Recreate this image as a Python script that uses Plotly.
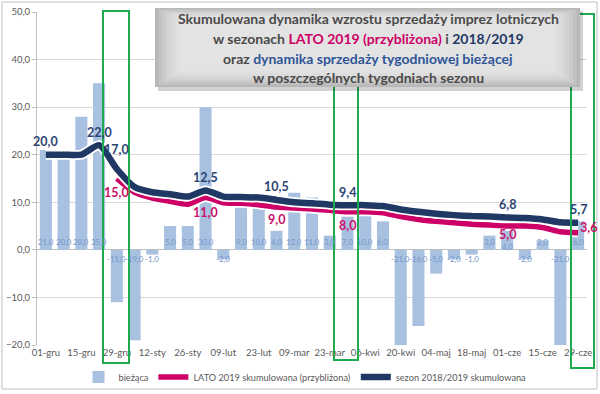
import plotly.graph_objects as go

# ---------------- data ----------------
weeks = ["01-gru", "08-gru", "15-gru", "22-gru", "29-gru", "05-sty", "12-sty", "19-sty",
         "26-sty", "02-lut", "09-lut", "16-lut", "23-lut", "02-mar", "09-mar", "16-mar",
         "23-mar", "30-mar", "06-kwi", "13-kwi", "20-kwi", "27-kwi", "04-maj", "11-maj",
         "18-maj", "25-maj", "01-cze", "08-cze", "15-cze", "22-cze", "29-cze"]
tick_weeks = weeks[::2]

biezaca = [21, 20, 28, 35, -11, -19, -1, 5, 5, 30, -2, 9, 10, 4, 12, 11, 3, 7, 10, 6,
           -21, -16, -5, -2, -1, 3, 4, -2, 2, -21, 6]

sezon_2018_2019 = [20, 20, 20, 22, 17, 13.2, 12.1, 11.7, 11.2, 12.5, 11.2, 11.1, 11.0, 10.5,
                   10.0, 9.8, 9.5, 9.4, 9.4, 9.2, 8.5, 8.0, 7.6, 7.3, 7.1, 7.0, 6.8, 6.7,
                   6.4, 5.8, 5.7]

lato_2019 = [None, None, None, None, 15, 12.1, 10.9, 10.2, 9.6, 11, 9.9, 9.8, 9.5, 9.0,
             8.8, 8.6, 8.3, 8.0, 8.0, 7.8, 7.0, 6.4, 6.0, 5.7, 5.4, 5.2, 5.0, 5.0, 4.7,
             3.8, 3.6]

sezon_label_idx = [0, 3, 4, 9, 13, 17, 26, 30]
lato_label_idx = [4, 9, 13, 17, 26, 30]


def fmt(v):
    return f"{v:.1f}".replace(".", ",")


FONT = "Lato"
NAVY = "#1F3864"
PINK = "#CC0066"
BAR = "#A9C1E1"

fig = go.Figure()

fig.add_trace(go.Bar(x=weeks, y=biezaca, name="bieżąca", marker_color=BAR,
                     marker_line_width=0, hoverinfo="x+y"))

# LATO 2019 line with white halo
fig.add_trace(go.Scatter(x=weeks, y=lato_2019, mode="lines",
                         line=dict(color="white", width=9, shape="spline", smoothing=0.6),
                         showlegend=False, hoverinfo="skip"))
fig.add_trace(go.Scatter(
    x=weeks, y=lato_2019, mode="lines", name="LATO 2019 skumulowana (przybliżona)",
    line=dict(color=PINK, width=5.5, shape="spline", smoothing=0.6)))

# sezon 2018/2019 line with white halo
fig.add_trace(go.Scatter(x=weeks, y=sezon_2018_2019, mode="lines",
                         line=dict(color="white", width=10, shape="spline", smoothing=0.6),
                         showlegend=False, hoverinfo="skip"))
fig.add_trace(go.Scatter(
    x=weeks, y=sezon_2018_2019, mode="lines", name="sezon 2018/2019 skumulowana",
    line=dict(color=NAVY, width=6.5, shape="spline", smoothing=0.6)))

# ---------------- layout helpers (pixel -> paper) ----------------
L, R, T, B = 37, 13, 12, 49
W, H = 600, 394
PW, PH = W - L - R, H - T - B


def px(x):
    return (x - L) / PW


def py(y):
    return (H - B - y) / PH


shapes = []
# outer border
shapes.append(dict(type="rect", xref="paper", yref="paper", x0=px(2), x1=px(597),
                   y0=py(389), y1=py(2), line=dict(color="#BFBFBF", width=1),
                   layer="below"))
# green highlight boxes
for (a, b, top, bot) in [(103, 129, 11, 363), (334, 358, 11, 360), (571, 594, 14, 368)]:
    shapes.append(dict(type="rect", xref="paper", yref="paper", x0=px(a), x1=px(b),
                       y0=py(bot), y1=py(top), line=dict(color="#1EAA4E", width=2),
                       layer="above"))
# title box: shadow + bevel-like gradient
bx0, bx1, by0, by1 = 155, 580, 8, 87
shapes.append(dict(type="rect", xref="paper", yref="paper", x0=px(bx0 + 3), x1=px(bx1 + 3),
                   y0=py(by1 + 4), y1=py(by0 + 3), line=dict(width=0),
                   fillcolor="rgba(0,0,0,0.18)", layer="above"))
grays = ["#B8B8B8", "#C2C2C2", "#CACACA", "#D1D1D1", "#D7D7D7", "#DCDCDC", "#E0E0E0", "#E3E3E3"]
for k, g in enumerate(grays):
    inset = k * 2.2
    shapes.append(dict(type="rect", xref="paper", yref="paper",
                       x0=px(bx0 + inset * 1.6), x1=px(bx1 - inset * 1.6),
                       y0=py(by1 - inset), y1=py(by0 + inset * 0.6),
                       line=dict(width=0), fillcolor=g, layer="above"))

annotations = []

# bar value labels at the base of each bar
bar_shift = {26: 3}
for i, v in enumerate(biezaca):
    annotations.append(dict(x=weeks[i], y=0, xref="x", yref="y", text=fmt(v),
                            showarrow=False,
                            yshift=bar_shift.get(i, 8 if v >= 0 else -9),
                            font=dict(family=FONT, size=7.8, color="#7296CA")))

# data labels on the lines (placed in data coordinates, shifted in pixels)
navy_shift = {4: 19}
for i in sezon_label_idx:
    annotations.append(dict(x=weeks[i], y=sezon_2018_2019[i], xref="x", yref="y",
                            text=fmt(sezon_2018_2019[i]), showarrow=False,
                            yshift=navy_shift.get(i, 13),
                            font=dict(family=FONT, size=12.5, color="#2B4573", weight="bold")))
pink_shift = {4: -14, 9: -15, 13: -12, 17: -14, 26: -8}
for i in lato_label_idx:
    last = i == len(weeks) - 1
    annotations.append(dict(x=weeks[i], y=lato_2019[i], xref="x", yref="y",
                            text=fmt(lato_2019[i]), showarrow=False,
                            xshift=10 if last else 0,
                            yshift=5 if last else pink_shift.get(i, -13),
                            font=dict(family=FONT, size=12.5, color="#C8106A", weight="bold")))

title_lines = [
    "Skumulowana dynamika wzrostu sprzedaży imprez lotniczych",
    f"w sezonach <span style='color:{PINK}'>LATO 2019 (przybliżona)</span> i "
    f"<span style='color:{NAVY}'>2018/2019</span>",
    "oraz <span style='color:#2F5597'>dynamika sprzedaży tygodniowej bieżącej</span>",
    "w poszczególnych tygodniach sezonu",
]
for yy, txt in zip([18, 38, 58, 78], title_lines):
    annotations.append(dict(xref="paper", yref="paper", x=px(368), y=py(yy), text=txt,
                            showarrow=False, xanchor="center", yanchor="middle",
                            font=dict(family=FONT, size=14, color="#4A4A4A", weight="bold")))

fig.update_layout(
    width=W, height=H,
    margin=dict(l=L, r=R, t=T, b=B, autoexpand=False),
    paper_bgcolor="white", plot_bgcolor="white",
    separators=", ",
    bargap=0.32,
    showlegend=True,
    legend=dict(orientation="h", x=px(305), xanchor="center", y=py(377), yanchor="middle",
                font=dict(family=FONT, size=9.2, color="#595959"),
                itemwidth=30, tracegroupgap=0, bgcolor="rgba(0,0,0,0)"),
    shapes=shapes,
    annotations=annotations,
    font=dict(family=FONT, color="#595959"),
)

fig.update_xaxes(type="category", categoryorder="array", categoryarray=weeks,
                 range=[-0.5, len(weeks) - 0.5],
                 tickmode="array", tickvals=tick_weeks, ticktext=tick_weeks,
                 tickfont=dict(family=FONT, size=9.5, color="#595959"),
                 showgrid=False, showline=False, ticks="", tickangle=0)

fig.update_yaxes(range=[-20, 50], dtick=10, tick0=0, tickformat=".1f",
                 tickfont=dict(family=FONT, size=9.5, color="#595959"),
                 showgrid=True, gridcolor="#D9D9D9", gridwidth=1,
                 zeroline=True, zerolinecolor="#BFBFBF", zerolinewidth=1,
                 showline=True, linecolor="#BFBFBF", ticks="outside", ticklen=4,
                 tickcolor="#BFBFBF")

fig.write_html("out.html", config={"displayModeBar": False},
               post_script="document.body.style.margin='0px';document.body.style.padding='0px';")
